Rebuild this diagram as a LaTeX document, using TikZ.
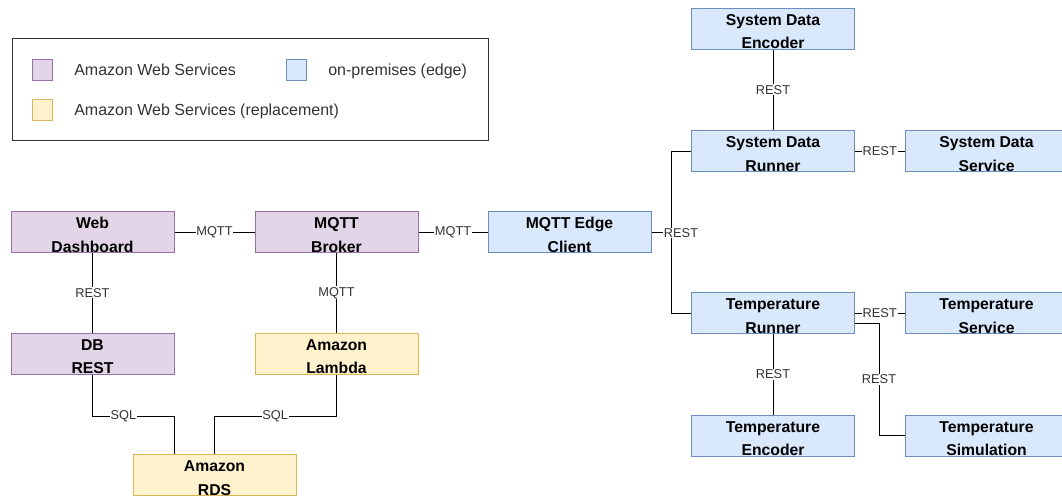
\documentclass[tikz,border=0pt]{standalone}
\usepackage{fontspec}
\setmainfont{Liberation Sans}
\usetikzlibrary{calc}
\definecolor{pfill}{HTML}{E1D5E7}\definecolor{pline}{HTML}{9673A6}
\definecolor{bfill}{HTML}{DAE8FC}\definecolor{bline}{HTML}{6C8EBF}
\definecolor{yfill}{HTML}{FFF2CC}\definecolor{yline}{HTML}{D6B656}
\definecolor{ink}{HTML}{333333}
\newcommand{\twol}[2]{\rule[-0.1pt]{0pt}{13.2pt}#1\\\rule[-0.1pt]{0pt}{13.2pt}#2}
\tikzset{
  box/.style={draw, line width=0.75pt, minimum width=122.25pt, minimum height=30.75pt,
    inner sep=0pt, align=center, text=black,
    font=\fontsize{11.8}{17.5}\selectfont\bfseries},
  aws/.style={box, fill=pfill, draw=pline},
  edgeb/.style={box, fill=bfill, draw=bline},
  repl/.style={box, fill=yfill, draw=yline},
  conn/.style={draw=black, line width=0.75pt},
  elbl/.style={fill=white, inner sep=0.6pt, text=ink, font=\fontsize{9.6}{11}\selectfont},
  swatch/.style={draw, line width=0.75pt, minimum width=15pt, minimum height=15.75pt, inner sep=0pt},
  legtxt/.style={inner sep=0pt, text=ink, font=\fontsize{12}{14}\selectfont, anchor=base west}
}
\begin{document}
\begin{tikzpicture}[x=0.75pt, y=-0.75pt]
\useasboundingbox (0,0) rectangle (1062,496);
% legend
\node[draw=ink, line width=0.75pt, minimum width=357pt, minimum height=76.5pt, inner sep=0pt] (legend) at (250,89) {};
\node[swatch, fill=pfill, draw=pline] (sw1) at (42,69.5) {};
\node[swatch, fill=yfill, draw=yline] (sw2) at (42,109.5) {};
\node[swatch, fill=bfill, draw=bline] (sw3) at (296,69.5) {};
\node[legtxt] (lt1) at (74,75.5) {Amazon Web Services};
\node[legtxt] (lt2) at (74,115.5) {Amazon Web Services (replacement)};
\node[legtxt] (lt3) at (328,75.5) {on-premises (edge)};
% nodes
\node[aws] (wd) at (92.5,232) {\twol{Web}{Dashboard}};
\node[aws] (broker) at (336.5,232) {\twol{MQTT}{Broker}};
\node[edgeb] (edge) at (569.5,232) {\twol{MQTT Edge}{Client}};
\node[aws] (db) at (92.5,353.5) {\twol{DB}{REST}};
\node[repl] (lambda) at (336.5,353.5) {\twol{Amazon}{Lambda}};
\node[repl] (rds) at (214.5,475) {\twol{Amazon}{RDS}};
\node[edgeb] (sdenc) at (773,28.5) {\twol{System Data}{Encoder}};
\node[edgeb] (sdrun) at (773,151) {\twol{System Data}{Runner}};
\node[edgeb] (sdsvc) at (986.5,151) {\twol{System Data}{Service}};
\node[edgeb] (trun) at (773,313) {\twol{Temperature}{Runner}};
\node[edgeb] (tsvc) at (986.5,313) {\twol{Temperature}{Service}};
\node[edgeb] (tenc) at (773,435.5) {\twol{Temperature}{Encoder}};
\node[edgeb] (tsim) at (986.5,435.5) {\twol{Temperature}{Simulation}};
% connectors
\draw[conn] (wd) -- node[elbl] (l1) {MQTT} (broker);
\draw[conn] (broker) -- node[elbl] (l2) {MQTT} (edge);
\draw[conn] (wd) -- node[elbl] (l3) {REST} (db);
\draw[conn] (broker) -- node[elbl] (l4) {MQTT} (lambda);
\coordinate (s1) at (174,416);
\coordinate (s2) at (214,416);
\draw[conn] (db.south) |- node[elbl, pos=0.69] (l5) {SQL} (s1) -- (s1 |- rds.north);
\draw[conn] (lambda.south) |- node[elbl, pos=0.75] (l6) {SQL} (s2) -- (s2 |- rds.north);
\coordinate (j) at (671,232);
\draw[conn] (edge.east) -- (j) |- (sdrun.west);
\draw[conn] (j) |- (trun.west);
\node[elbl] (l7) at (681,233) {REST};
\draw[conn] (sdenc) -- node[elbl] (l8) {REST} (sdrun);
\draw[conn] (sdrun) -- node[elbl] (l9) {REST} (sdsvc);
\draw[conn] (trun) -- node[elbl] (l10) {REST} (tsvc);
\draw[conn] (trun) -- node[elbl] (l11) {REST} (tenc);
\coordinate (k) at (879,435.5);
\draw[conn] ($(trun.east)+(0,10)$) -| node[elbl, pos=0.75] (l12) {REST} (k) -- (tsim.west);
\end{tikzpicture}
\end{document}
